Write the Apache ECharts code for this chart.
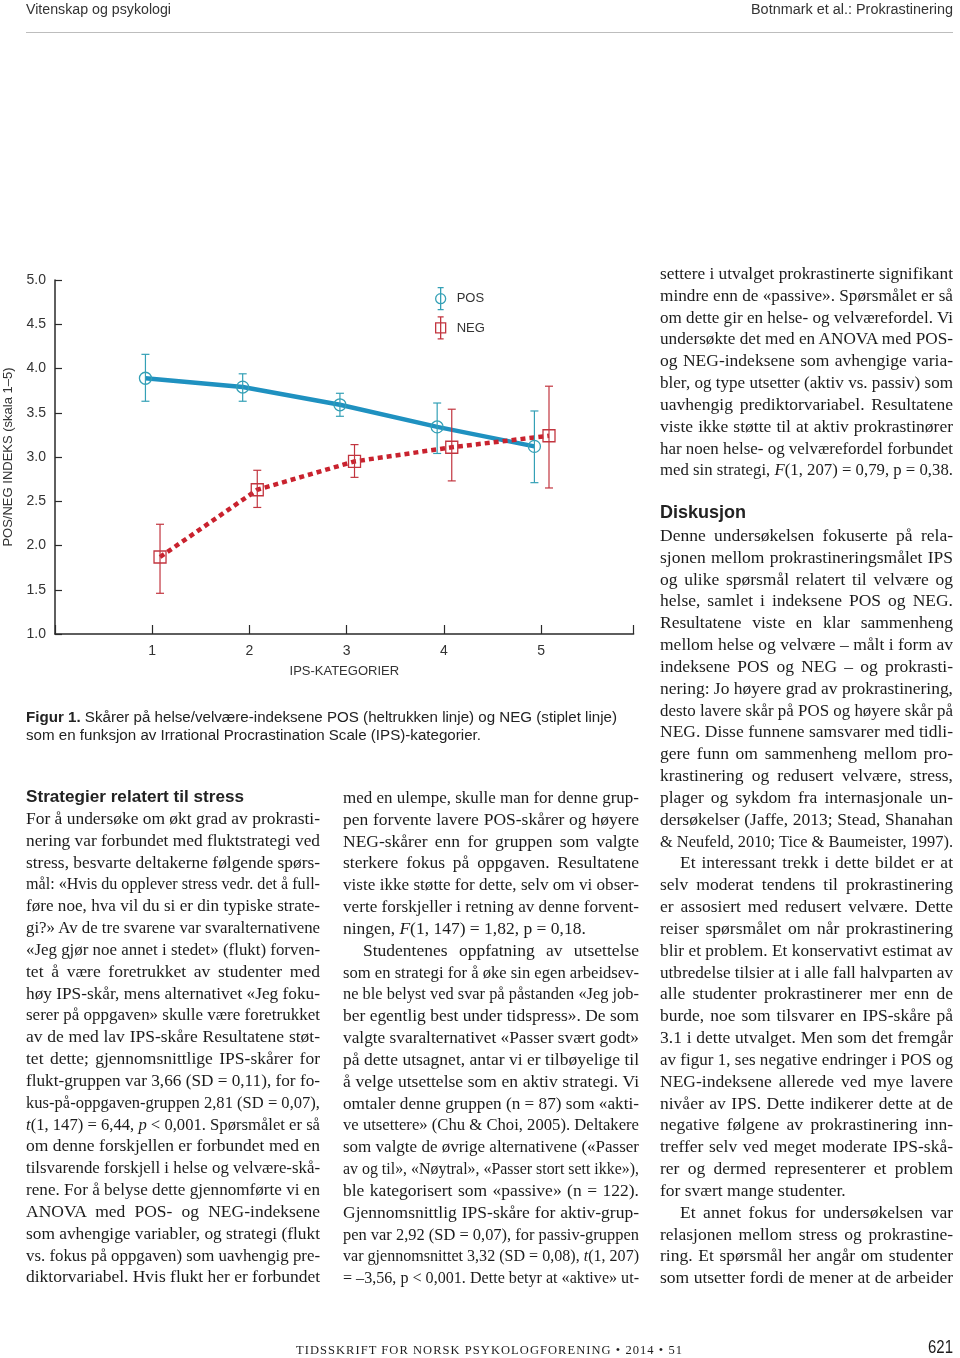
<!DOCTYPE html>
<html><head><meta charset="utf-8">
<script src="https://cdn.jsdelivr.net/npm/echarts@6/dist/echarts.min.js"></script>
<style>
html,body{margin:0;padding:0;background:#fff;}
#page{position:relative;width:960px;height:1358px;overflow:hidden;background:#fff;}
#chart{position:absolute;left:0;top:0;width:960px;height:1358px;}
.t{position:absolute;white-space:nowrap;color:#1c1c1c;}
.serif{font-family:"Liberation Serif","DejaVu Serif",serif;font-size:17.5px;line-height:22px;}
.sans{font-family:"Liberation Sans",Arial,sans-serif;}
</style></head><body><div id="page"><div id="chart"></div></div>
<script>
// ---------------- data ----------------
const categories = [1, 2, 3, 4, 5];
const xTickLabels = ['1', '2', '3', '4', '5'];
const posMean = [3.89, 3.79, 3.59, 3.34, 3.12];
const posLow  = [3.63, 3.63, 3.46, 3.04, 2.71];
const posHigh = [4.16, 3.94, 3.72, 3.61, 3.52];
const negMean = [1.87, 2.63, 2.95, 3.11, 3.24];
const negLow  = [1.46, 2.43, 2.77, 2.73, 2.65];
const negHigh = [2.24, 2.85, 3.14, 3.54, 3.80];
const seriesNames = ['POS', 'NEG'];
const yAxisTitle = 'POS/NEG INDEKS (skala 1–5)';
const xAxisTitle = 'IPS-KATEGORIER';

// ---------------- page text ----------------
const headerLeft = 'Vitenskap og psykologi';
const headerRight = 'Botnmark et al.: Prokrastinering';
const captionLines = [
  '<b>Figur 1.</b> Skårer på helse/velvære-indeksene POS (heltrukken linje) og NEG (stiplet linje)',
  'som en funksjon av Irrational Procrastination Scale (IPS)-kategorier.'
];
const heading1 = 'Strategier relatert til stress';
const heading2 = 'Diskusjon';
const col1Lines = [
  'For å undersøke om økt grad av prokrasti-',
  'nering var forbundet med fluktstrategi ved',
  'stress, besvarte deltakerne følgende spørs-',
  'mål: «Hvis du opplever stress vedr. det å full-',
  'føre noe, hva vil du si er din typiske strate-',
  'gi?» Av de tre svarene var svaralternativene',
  '«Jeg gjør noe annet i stedet» (flukt) forven-',
  'tet å være foretrukket av studenter med',
  'høy IPS-skår, mens alternativet «Jeg foku-',
  'serer på oppgaven» skulle være foretrukket',
  'av de med lav IPS-skåre Resultatene støt-',
  'tet dette; gjennomsnittlige IPS-skårer for',
  'flukt-gruppen var 3,66 (SD = 0,11), for fo-',
  'kus-på-oppgaven-gruppen 2,81 (SD = 0,07),',
  '<i>t</i>(1, 147) = 6,44, <i>p</i> &lt; 0,001. Spørsmålet er så',
  'om denne forskjellen er forbundet med en',
  'tilsvarende forskjell i helse og velvære-skå-',
  'rene. For å belyse dette gjennomførte vi en',
  'ANOVA med POS- og NEG-indeksene',
  'som avhengige variabler, og strategi (flukt',
  'vs. fokus på oppgaven) som uavhengig pre-',
  'diktorvariabel. Hvis flukt her er forbundet'
];
const col2Lines = [
  'med en ulempe, skulle man for denne grup-',
  'pen forvente lavere POS-skårer og høyere',
  'NEG-skårer enn for gruppen som valgte',
  'sterkere fokus på oppgaven. Resultatene',
  'viste ikke støtte for dette, selv om vi obser-',
  'verte forskjeller i retning av denne forvent-',
  'ningen, <i>F</i>(1, 147) = 1,82, p = 0,18.¶',
  '>Studentenes oppfatning av utsettelse',
  'som en strategi for å øke sin egen arbeidsev-',
  'ne ble belyst ved svar på påstanden «Jeg job-',
  'ber egentlig best under tidspress». De som',
  'valgte svaralternativet «Passer svært godt»',
  'på dette utsagnet, antar vi er tilbøyelige til',
  'å velge utsettelse som en aktiv strategi. Vi',
  'omtaler denne gruppen (n = 87) som «akti-',
  've utsettere» (Chu &amp; Choi, 2005). Deltakere',
  'som valgte de øvrige alternativene («Passer',
  'av og til», «Nøytral», «Passer stort sett ikke»),',
  'ble kategorisert som «passive» (n = 122).',
  'Gjennomsnittlig IPS-skåre for aktiv-grup-',
  'pen var 2,92 (SD = 0,07), for passiv-gruppen',
  'var gjennomsnittet 3,32 (SD = 0,08), <i>t</i>(1, 207)',
  '= –3,56, p &lt; 0,001. Dette betyr at «aktive» ut-'
];
const col3aLines = [
  'settere i utvalget prokrastinerte signifikant',
  'mindre enn de «passive». Spørsmålet er så',
  'om dette gir en helse- og velværefordel. Vi',
  'undersøkte det med en ANOVA med POS-',
  'og NEG-indeksene som avhengige varia-',
  'bler, og type utsetter (aktiv vs. passiv) som',
  'uavhengig prediktorvariabel. Resultatene',
  'viste ikke støtte til at aktiv prokrastinører',
  'har noen helse- og velværefordel forbundet',
  'med sin strategi, <i>F</i>(1, 207) = 0,79, p = 0,38.¶'
];
const col3bLines = [
  'Denne undersøkelsen fokuserte på rela-',
  'sjonen mellom prokrastineringsmålet IPS',
  'og ulike spørsmål relatert til velvære og',
  'helse, samlet i indeksene POS og NEG.',
  'Resultatene viste en klar sammenheng',
  'mellom helse og velvære – målt i form av',
  'indeksene POS og NEG – og prokrasti-',
  'nering: Jo høyere grad av prokrastinering,',
  'desto lavere skår på POS og høyere skår på',
  'NEG. Disse funnene samsvarer med tidli-',
  'gere funn om sammenheng mellom pro-',
  'krastinering og redusert velvære, stress,',
  'plager og sykdom fra internasjonale un-',
  'dersøkelser (Jaffe, 2013; Stead, Shanahan',
  '&amp; Neufeld, 2010; Tice &amp; Baumeister, 1997).¶',
  '>Et interessant trekk i dette bildet er at',
  'selv moderat tendens til prokrastinering',
  'er assosiert med redusert velvære. Dette',
  'reiser spørsmålet om når prokrastinering',
  'blir et problem. Et konservativt estimat av',
  'utbredelse tilsier at i alle fall halvparten av',
  'alle studenter prokrastinerer mer enn de',
  'burde, noe som tilsvarer en IPS-skåre på',
  '3.1 i dette utvalget. Men som det fremgår',
  'av figur 1, ses negative endringer i POS og',
  'NEG-indeksene allerede ved mye lavere',
  'nivåer av IPS. Dette indikerer dette at de',
  'negative følgene av prokrastinering inn-',
  'treffer selv ved meget moderate IPS-skå-',
  'rer og dermed representerer et problem',
  'for svært mange studenter.¶',
  '>Et annet fokus for undersøkelsen var',
  'relasjonen mellom stress og prokrastine-',
  'ring. Et spørsmål her angår om studenter',
  'som utsetter fordi de mener at de arbeider'
];
const footerText = 'TIDSSKRIFT FOR NORSK PSYKOLOGFORENING • 2014 • 51';
const pageNumber = '621';

// ---------------- chart ----------------
const chart = echarts.init(document.getElementById('chart'), null, {renderer: 'canvas'});
const posOffset = -0.07, negOffset = 0.08;
const posLineColor = '#1f91c0', posMarkColor = '#34a0b6';
const negLineColor = '#c9222e', negMarkColor = '#c2353f';
const sansFont = '"Liberation Sans", Arial, sans-serif';

function errSeries(low, high, offset, color) {
  return {
    type: 'custom', silent: true, z: 6,
    data: categories.map((c, i) => [c + offset, low[i], high[i]]),
    encode: {x: 0, y: [1, 2]},
    renderItem: function (params, api) {
      const x = api.value(0);
      const a = api.coord([x, api.value(2)]);
      const b = api.coord([x, api.value(1)]);
      const cw = 4;
      const st = {stroke: color, lineWidth: 1.2, fill: null};
      return {type: 'group', children: [
        {type: 'line', shape: {x1: a[0], y1: a[1], x2: b[0], y2: b[1]}, style: st},
        {type: 'line', shape: {x1: a[0] - cw, y1: a[1], x2: a[0] + cw, y2: a[1]}, style: st},
        {type: 'line', shape: {x1: b[0] - cw, y1: b[1], x2: b[0] + cw, y2: b[1]}, style: st}
      ]};
    }
  };
}

chart.setOption({
  animation: false,
  backgroundColor: '#fff',
  grid: {left: 55, top: 280, width: 578.6, height: 354, containLabel: false, outerBoundsMode: 'none'},
  xAxis: {
    type: 'value', min: 0, max: 5.95, interval: 1,
    name: xAxisTitle, nameLocation: 'middle', nameGap: 31,
    nameTextStyle: {fontFamily: sansFont, fontSize: 13, color: '#333'},
    axisLine: {show: true, onZero: false, lineStyle: {color: '#2a2a2a', width: 1.5}},
    axisTick: {show: true, inside: true, length: 9, lineStyle: {color: '#2a2a2a', width: 1.2}},
    splitLine: {show: false},
    axisLabel: {
      margin: 10, fontFamily: sansFont, fontSize: 14, color: '#333',
      formatter: v => (v >= 1 && v <= 5) ? xTickLabels[v - 1] : ''
    }
  },
  yAxis: {
    type: 'value', min: 1, max: 5, interval: 0.5,
    name: yAxisTitle, nameLocation: 'middle', nameGap: 40, nameRotate: 90,
    nameTextStyle: {fontFamily: sansFont, fontSize: 13, color: '#333'},
    axisLine: {show: true, lineStyle: {color: '#2a2a2a', width: 1.5}},
    axisTick: {show: true, inside: true, length: 7, lineStyle: {color: '#2a2a2a', width: 1.2}},
    splitLine: {show: false},
    axisLabel: {margin: 9, fontFamily: sansFont, fontSize: 14, color: '#333', formatter: v => v.toFixed(1)}
  },
  legend: {
    orient: 'vertical', left: 435, top: 287, padding: 0, itemWidth: 10, itemHeight: 22, itemGap: 6,
    selectedMode: false,
    textStyle: {fontFamily: sansFont, fontSize: 13, color: '#333', padding: [0, 0, 0, 6]},
    data: [
      {name: seriesNames[0], icon: 'path://M5,0L5,22M2,0L8,0M2,22L8,22M10,11A5,5,0,1,1,0,11A5,5,0,1,1,10,11Z',
       itemStyle: {color: 'rgba(0,0,0,0)', borderColor: posMarkColor, borderWidth: 1.3}},
      {name: seriesNames[1], icon: 'path://M5,0L5,22M2,0L8,0M2,22L8,22M0,6L10,6L10,16L0,16Z',
       itemStyle: {color: 'rgba(0,0,0,0)', borderColor: negMarkColor, borderWidth: 1.3}}
    ]
  },
  series: [
    {
      type: 'line', name: seriesNames[0], z: 4,
      data: categories.map((c, i) => [c + posOffset, posMean[i]]),
      symbol: 'circle', symbolSize: 12,
      lineStyle: {color: posLineColor, width: 4.5},
      itemStyle: {color: 'rgba(0,0,0,0)', borderColor: posMarkColor, borderWidth: 1.3}
    },
    {
      type: 'line', name: seriesNames[1], z: 4,
      data: categories.map((c, i) => [c + negOffset, negMean[i]]),
      symbol: 'rect', symbolSize: 12,
      lineStyle: {color: negLineColor, width: 4.5, type: [5, 4], cap: 'butt'},
      itemStyle: {color: 'rgba(0,0,0,0)', borderColor: negMarkColor, borderWidth: 1.3}
    },
    errSeries(posLow, posHigh, posOffset, posMarkColor),
    errSeries(negLow, negHigh, negOffset, negMarkColor)
  ]
});

// ---------------- page text layout ----------------
const page = document.getElementById('page');
function fitText(html, cls, left, cy, width, align, styleExtra) {
  const d = document.createElement('div');
  d.className = 't ' + cls;
  d.innerHTML = html;
  if (styleExtra) Object.assign(d.style, styleExtra);
  page.appendChild(d);
  const r = d.getBoundingClientRect();
  const s = width / r.width;
  const x = align === 'right' ? left - width : left;
  d.style.left = x + 'px';
  d.style.top = (cy - r.height / 2) + 'px';
  d.style.transformOrigin = '0 50%';
  d.style.transform = 'scaleX(' + s.toFixed(4) + ')';
  return d;
}
function bodyColumn(lines, left, y0, width, pitch) {
  lines.forEach((raw, i) => {
    let txt = raw, indent = 0, last = false;
    if (txt.startsWith('>')) { txt = txt.slice(1); indent = 20; }
    if (txt.endsWith('¶')) { txt = txt.slice(0, -1); last = true; }
    const d = document.createElement('div');
    d.className = 't serif';
    d.innerHTML = txt;
    page.appendChild(d);
    const avail = width - indent;
    const w = d.getBoundingClientRect().width;
    d.style.left = (left + indent) + 'px';
    d.style.top = (y0 + i * pitch - 11) + 'px';
    if (w > avail) {
      d.style.transformOrigin = '0 50%';
      d.style.transform = 'scaleX(' + (avail / w).toFixed(4) + ')';
    } else if (!last) {
      d.style.whiteSpace = 'normal';
      d.style.width = avail + 'px';
      d.style.textAlign = 'justify';
      d.style.textAlignLast = 'justify';
    }
  });
}

const PITCH = 21.83;
fitText(headerLeft, 'sans', 26, 9, 145, 'left', {fontSize: '14px', color: '#333'});
fitText(headerRight, 'sans', 953, 9, 202, 'right', {fontSize: '14px', color: '#333'});
const rule = document.createElement('div');
Object.assign(rule.style, {position: 'absolute', left: '26px', top: '32px', width: '927px', height: '1px', background: '#bdbdbd'});
page.appendChild(rule);

fitText(captionLines[0], 'sans', 26, 717, 591, 'left', {fontSize: '14px', color: '#222'});
fitText(captionLines[1], 'sans', 26, 735, 455, 'left', {fontSize: '14px', color: '#222'});

fitText(heading1, 'sans', 26, 797, 218, 'left', {fontSize: '17px', fontWeight: '600', color: '#222'});
bodyColumn(col1Lines, 26, 818, 294, PITCH);
bodyColumn(col2Lines, 343, 797, 296, PITCH);
bodyColumn(col3aLines, 660, 273, 293, PITCH);
fitText(heading2, 'sans', 660, 512, 86, 'left', {fontSize: '18px', fontWeight: 'bold', color: '#222'});
bodyColumn(col3bLines, 660, 535, 293, PITCH);

fitText(footerText, 'serif', 296, 1350, 387, 'left', {fontSize: '12px', letterSpacing: '1px', lineHeight: '14px'});
fitText(pageNumber, 'sans', 953, 1347, 25, 'right', {fontSize: '19px', lineHeight: '20px'});
</script></body></html>
